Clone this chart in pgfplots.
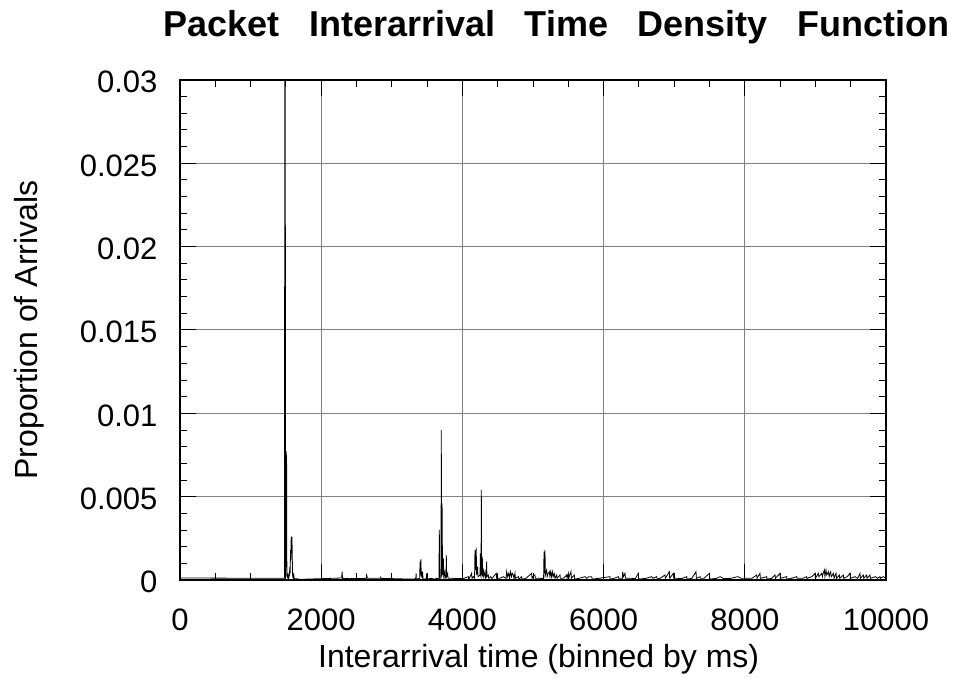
\documentclass[border=0pt]{standalone}
\usepackage{pgfplots}
\pgfplotsset{compat=1.18}
\usepackage{fontspec}
\setmainfont{Liberation Sans}
\begin{document}
\begin{tikzpicture}
\path[use as bounding box] (-180pt,-97pt) rectangle (783pt,580pt);
\begin{axis}[
  at={(0,0)}, anchor=south west,
  scale only axis, width=706pt, height=500pt,
  xmin=0, xmax=10000, ymin=0, ymax=0.03,
  xtick={0,2000,4000,6000,8000,10000},
  ytick={0,0.005,0.01,0.015,0.02,0.025,0.03},
  minor x tick num=3, minor y tick num=4,
  scaled x ticks=false, scaled y ticks=false,
  /pgf/number format/assume math mode=true,
  xticklabel style={/pgf/number format/1000 sep={}, font=\fontsize{31}{35}\selectfont, yshift=-25pt},
  yticklabel style={/pgf/number format/fixed, /pgf/number format/precision=3, font=\fontsize{31}{35}\selectfont, xshift=-19pt, yshift=-2pt},
  tick align=inside,
  major tick length=16pt, minor tick length=7pt,
  every tick/.style={black, line width=1pt},
  grid=major,
  major grid style={gray, line width=1pt},
  axis line style={black, line width=1.3pt},
  xlabel={Interarrival time (binned by ms)},
  ylabel={Proportion of Arrivals},
  xlabel style={at={(axis description cs:0.508,-0.175)}, anchor=base, font=\fontsize{32}{36}\selectfont},
  ylabel style={at={(axis description cs:-0.2025,0.5)}, anchor=base, font=\fontsize{32}{36}\selectfont},
  title={Packet\hspace{0.82em}Interarrival\hspace{0.82em}Time\hspace{0.82em}Density\hspace{0.82em}Function},
  title style={at={(axis description cs:0.533,1.074)}, anchor=base, font=\fontsize{36}{40}\bfseries\selectfont},
  clip=true,
]
\addplot[black, line width=0.8pt] coordinates {
(0,0.00012) (1480,0.0001) (1484,0.0305) (1488,0.0005) (1491,0.0305) (1495,0.0002) (1505,0.0077) (1510,0.007) (1514,0.0002) (1520,0.0004) (1525,0.0001) (1532,0.0004) (1538,0.0001) (1550,0.0003) (1556,0.0008) (1560,0.0004) (1566,0.0018) (1570,0.0012) (1575,0.0026) (1580,0.0016) (1586,0.0026) (1591,0.0012) (1596,0.0002) (1605,0.0001) (1612,0.0003) (1618,0.00005) (1640,0.00008) (1700,0.00004) (2290,0.00012) (2296,0.0005) (2302,0.0001) (2400,0.00008) (2640,0.0001) (2643,0.0003) (2650,0.0002) (2655,0.0001) (2840,0.0001) (2843,0.00015) (2846,0.0001) (3300,0.00005) (3340,0.00008) (3344,0.0004) (3348,0.00005) (3395,0.0001) (3400,0.0011) (3405,0.0003) (3412,0.00124) (3418,0.0002) (3425,0.0005) (3430,0.0001) (3437,0.0005) (3442,0.00005) (3490,0.00008) (3494,0.0004) (3498,0.00005) (3560,0.0001) (3600,0.00005) (3640,0.0001) (3668,0.00005) (3673,0.003) (3678,0.0001) (3697,0.0001) (3701,0.009) (3706,0.0002) (3712,0.0046) (3718,0.0008) (3724,0.0003) (3730,0.0013) (3735,0.0002) (3749,0.0005) (3754,0.0001) (3768,0.0002) (3772,0.0015) (3777,0.0002) (3791,0.0004) (3796,0.0001) (3871,0.0001) (3950,0.00008) (4020,0.0001) (4084,0.0002) (4090,0.00005) (4131,0.0004) (4136,0.0001) (4155,0.0002) (4172,0.0001) (4178,0.0018) (4184,0.0006) (4190,0.0017) (4196,0.0018) (4202,0.0003) (4216,0.0008) (4221,0.0002) (4250,0.0003) (4254,0.0016) (4259,0.0003) (4264,0.0002) (4268,0.0054) (4273,0.0003) (4282,0.0014) (4287,0.0002) (4296,0.0007) (4301,0.0002) (4320,0.0005) (4325,0.0001) (4338,0.0002) (4343,0.0011) (4348,0.0002) (4367,0.0003) (4372,0.0001) (4400,0.0002) (4420,0.00008) (4440,0.0002) (4480,0.0004) (4485,0.0001) (4530,0.0001) (4580,0.0002) (4620,0.0001) (4627,0.0005) (4640,0.0002) (4655,0.0004) (4668,0.0001) (4680,0.0005) (4695,0.0002) (4705,0.0004) (4721,0.0003) (4730,0.0001) (4745,0.0004) (4750,0.0001) (4792,0.0002) (4800,0.00005) (4839,0.0002) (4845,0.00005) (4900,0.0001) (4981,0.0004) (4986,0.0001) (5014,0.0003) (5028,0.0003) (5033,0.0001) (5100,0.0001) (5150,0.00008) (5156,0.0017) (5162,0.0004) (5170,0.0018) (5175,0.0003) (5194,0.0006) (5200,0.0002) (5217,0.0004) (5231,0.0005) (5240,0.0002) (5250,0.0005) (5262,0.0002) (5274,0.0005) (5285,0.0002) (5300,0.0004) (5311,0.0001) (5335,0.0003) (5340,0.0001) (5383,0.0003) (5388,0.0001) (5430,0.0001) (5477,0.0003) (5482,0.0001) (5500,0.0004) (5505,0.0001) (5538,0.0005) (5543,0.0001) (5585,0.0003) (5590,0.00005) (5650,0.0001) (5737,0.0002) (5760,0.0001) (5790,0.0002) (5831,0.0002) (5840,0.00005) (5930,0.0001) (6090,0.0002) (6095,0.00005) (6150,0.0001) (6209,0.0002) (6214,0.0001) (6266,0.0001) (6270,0.0005) (6280,0.0002) (6303,0.0004) (6310,0.0001) (6400,0.0001) (6450,0.00008) (6492,0.0004) (6497,0.00005) (6600,0.0001) (6681,0.0002) (6700,0.0001) (6752,0.0002) (6760,0.00005) (6800,0.0001) (6870,0.0003) (6875,0.0001) (6931,0.0005) (6936,0.0001) (6988,0.0004) (6993,0.0001) (7050,0.0001) (7100,0.00008) (7177,0.0002) (7182,0.00005) (7250,0.0001) (7309,0.0005) (7314,0.0001) (7366,0.0002) (7371,0.0001) (7420,0.0001) (7498,0.0004) (7503,0.00005) (7600,0.0001) (7650,0.0002) (7700,0.00008) (7800,0.0001) (7900,0.0002) (7950,0.0001) (8100,0.0001) (8168,0.0003) (8173,0.0001) (8215,0.0004) (8220,0.0001) (8310,0.0002) (8315,0.00005) (8380,0.0001) (8428,0.0003) (8433,0.0001) (8498,0.0004) (8503,0.0001) (8593,0.0002) (8598,0.00005) (8660,0.0001) (8735,0.0002) (8740,0.0001) (8820,0.0001) (8876,0.0002) (8881,0.0001) (8950,0.0002) (8994,0.0004) (9000,0.0001) (9041,0.0004) (9050,0.0002) (9070,0.0003) (9089,0.0004) (9100,0.0002) (9110,0.0004) (9127,0.0006) (9135,0.0002) (9150,0.0006) (9160,0.0003) (9175,0.0004) (9183,0.0005) (9195,0.0002) (9205,0.0004) (9216,0.0005) (9225,0.0002) (9240,0.0003) (9254,0.0004) (9265,0.0001) (9280,0.0003) (9292,0.0004) (9300,0.0001) (9339,0.0003) (9345,0.0001) (9396,0.0003) (9401,0.0001) (9450,0.0002) (9490,0.0004) (9495,0.0001) (9560,0.0002) (9600,0.0001) (9632,0.0004) (9637,0.0001) (9679,0.0003) (9685,0.0001) (9726,0.0003) (9731,0.0001) (9773,0.0003) (9778,0.0001) (9850,0.0002) (9880,0.0001) (9915,0.0002) (9920,0.0001) (9960,0.0002) (10000,0.0001)
};
\end{axis}
\end{tikzpicture}
\end{document}
